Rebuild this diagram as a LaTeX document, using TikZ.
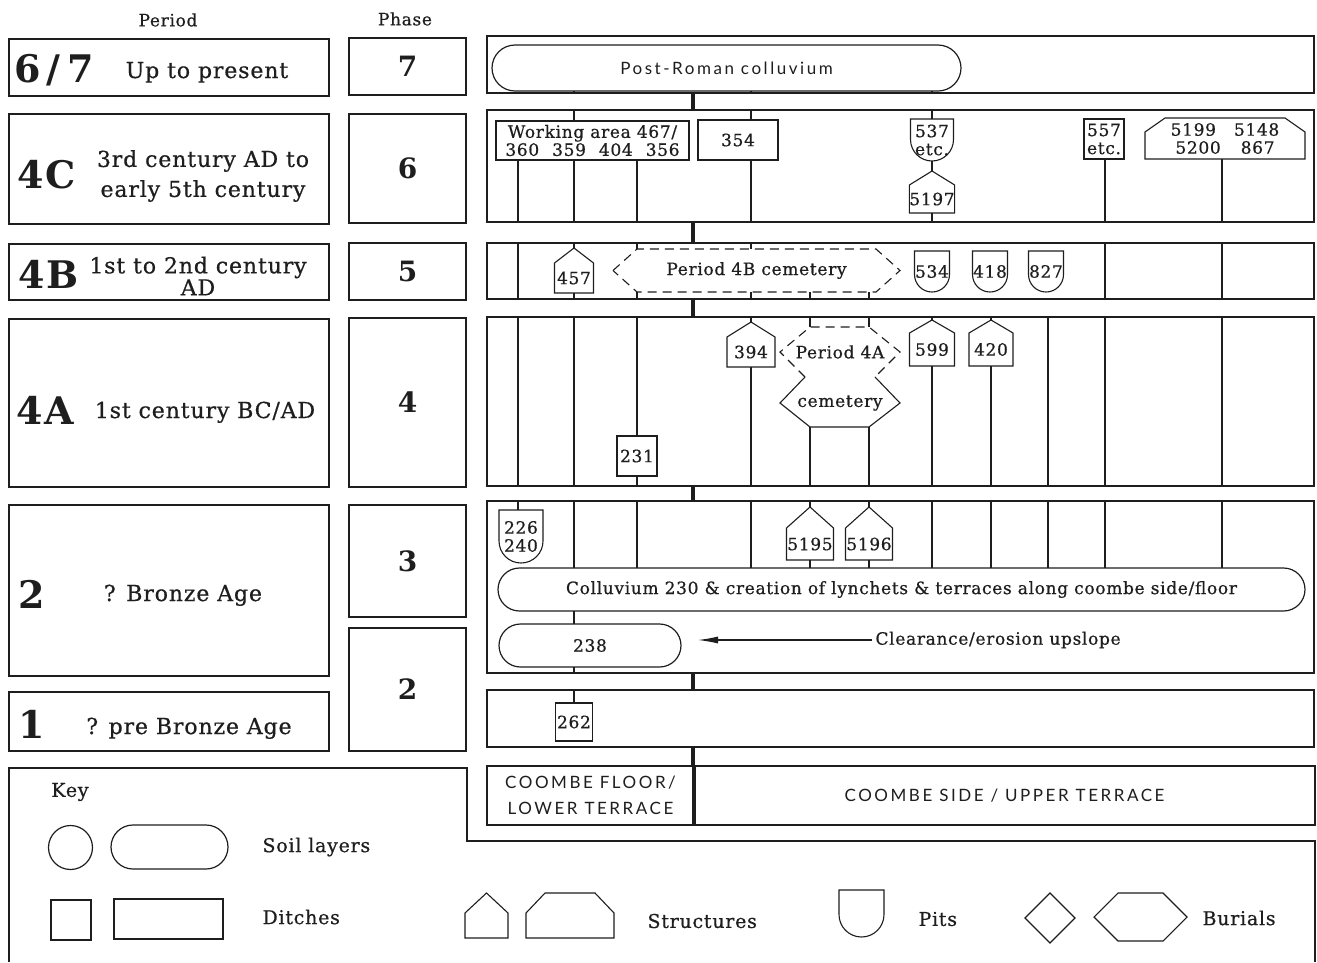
\documentclass[tikz,border=0pt]{standalone}
\usepackage{fontspec}
\setmainfont{DejaVu Serif}[LetterSpace=4, UprightFeatures={FakeBold=0.6}]
\newfontfamily\signfont{Lato}[LetterSpace=15]
\usetikzlibrary{arrows.meta,shapes.geometric}
\definecolor{ink}{HTML}{1E1E1E}
\newcommand{\headfont}{\fontsize{17}{17}\selectfont}
\newcommand{\bignum}{\fontsize{38}{38}\selectfont\bfseries}
\newcommand{\descfont}{\fontsize{22}{30}\selectfont}
\newcommand{\phasefont}{\fontsize{28}{28}\selectfont\bfseries}
\newcommand{\numfont}{\fontsize{17}{18}\selectfont}
\newcommand{\keyfont}{\fontsize{19}{19}\selectfont}
\newcommand{\signtext}{\signfont\fontsize{17}{26}\selectfont}
\tikzset{
  boxline/.style={draw=ink, line width=1.2pt, inner sep=0pt, outer sep=0pt},
  periodbox/.style={boxline, minimum width=320pt},
  phasebox/.style={boxline, minimum width=117pt, font=\phasefont, text=ink},
  rowbox/.style={boxline, minimum width=827pt},
  periodnum/.style={font=\bignum, text=ink, anchor=base west, inner sep=0pt},
  perioddesc/.style={font=\descfont, text=ink, align=center},
  link/.style={draw=ink, line width=1.1pt},
  spine/.style={draw=ink, line width=3.5pt},
  soil/.style={boxline, rounded corners=#1, font=\numfont, text=ink},
  ditch/.style={boxline, font=\numfont, text=ink, align=center},
  pit/.style={inner sep=0pt, outer sep=0pt, font=\numfont, text=ink, align=center,
    minimum width=2*#1,
    append after command={\pgfextra{\draw[link] (\tikzlastnode.north west)
      -- ([yshift=#1]\tikzlastnode.south west) arc[start angle=180, end angle=360, radius=#1]
      -- (\tikzlastnode.north east) -- cycle;}}},
  house/.style={inner sep=0pt, outer sep=0pt, font=\numfont, text=ink,
    append after command={\pgfextra{\draw[link] (\tikzlastnode.south west)
      -- (\tikzlastnode.north west) -- ([yshift=#1]\tikzlastnode.north)
      -- (\tikzlastnode.north east) -- (\tikzlastnode.south east) -- cycle;}}},
  bigstructure/.style 2 args={inner sep=0pt, outer sep=0pt, font=\numfont, text=ink, align=center,
    append after command={\pgfextra{\draw[link] (\tikzlastnode.south west)
      -- ([yshift=-#2]\tikzlastnode.north west) -- ([xshift=#1]\tikzlastnode.north west)
      -- ([xshift=-#1]\tikzlastnode.north east) -- ([yshift=-#2]\tikzlastnode.north east)
      -- (\tikzlastnode.south east) -- cycle;}}},
  burial/.style 2 args={inner sep=0pt, outer sep=0pt, font=\numfont, text=ink,
    append after command={\pgfextra{\draw[link, #2] (\tikzlastnode.west)
      -- ([xshift=#1]\tikzlastnode.north west) -- ([xshift=-#1]\tikzlastnode.north east)
      -- (\tikzlastnode.east) -- ([xshift=-#1]\tikzlastnode.south east)
      -- ([xshift=#1]\tikzlastnode.south west) -- cycle;}}},
  gravedash/.style={dash pattern=on 9pt off 6pt},
  lbl/.style={font=\numfont, text=ink},
  keylbl/.style={font=\keyfont, text=ink, anchor=west},
  flowarrow/.style={link, -{Latex[length=20pt, width=7pt]}}
}

\begin{document}
\begin{tikzpicture}[x=1pt, y=-1pt]
  \useasboundingbox[fill=white] (0,0) rectangle (1317,962);
  \foreach \n/\x in {1/518,2/574,3/637,4/751,5/810,6/869,7/932,8/991,9/1048,10/1105,11/1222}
    \coordinate (c\n) at (\x,0);
  \coordinate (spinex) at (693,0);

  % period and phase columns
  \node[font=\headfont, text=ink] (hperiod) at (168,20) {Period};
  \node[font=\headfont, text=ink] (hphase) at (405,19) {Phase};
  \node[periodbox, minimum height=57pt] (p67) at (169,67.5) {};
  \node[periodbox, minimum height=110pt] (p4c) at (169,169) {};
  \node[periodbox, minimum height=56pt] (p4b) at (169,272) {};
  \node[periodbox, minimum height=168pt] (p4a) at (169,403) {};
  \node[periodbox, minimum height=171pt] (p2) at (169,590.5) {};
  \node[periodbox, minimum height=59pt] (p1) at (169,721.5) {};
  \node[periodnum] (n67) at (14,82) {6\,/\,7};
  \node[periodnum] (n4c) at (17,188) {4C};
  \node[periodnum] (n4b) at (18,288) {4B};
  \node[periodnum] (n4a) at (16,424) {4A};
  \node[periodnum] (n2) at (18,608) {2};
  \node[periodnum] (n1) at (18,738) {1};
  \node[perioddesc, anchor=base] (d67) at (207,78) {Up to present};
  \node[perioddesc] (d4c) at (203,176) {3rd century AD to\\early 5th century};
  \node[perioddesc, font=\fontsize{22}{22}\selectfont] (d4b) at (198,276) {1st to 2nd century\\AD};
  \node[perioddesc, anchor=base] (d4a) at (205,418) {1st century BC/AD};
  \node[perioddesc, anchor=base] (d2) at (183,601) {? Bronze Age};
  \node[perioddesc, anchor=base] (d1) at (189,734) {? pre Bronze Age};
  \node[phasebox, minimum height=57pt] (ph7) at (407.5,66.5) {7};
  \node[phasebox, minimum height=109pt] (ph6) at (407.5,168.5) {6};
  \node[phasebox, minimum height=57pt] (ph5) at (407.5,271.5) {5};
  \node[phasebox, minimum height=169pt] (ph4) at (407.5,402.5) {4};
  \node[phasebox, minimum height=112pt] (ph3) at (407.5,561) {3};
  \node[phasebox, minimum height=123pt] (ph2) at (407.5,689.5) {2};

  % sequence rows
  \node[rowbox, minimum height=57pt] (r7) at (900.5,64.5) {};
  \node[rowbox, minimum height=112pt] (r6) at (900.5,166) {};
  \node[rowbox, minimum height=56pt] (r5) at (900.5,271) {};
  \node[rowbox, minimum height=169pt] (r4) at (900.5,401.5) {};
  \node[rowbox, minimum height=172pt] (r3) at (900.5,587) {};
  \node[rowbox, minimum height=57pt] (r2) at (900.5,718.5) {};
  \node[boxline, minimum width=207pt, minimum height=59pt, font=\signtext, text=ink, align=center] (floor) at (590.5,795.5) {COOMBE FLOOR/\\LOWER TERRACE};
  \node[boxline, minimum width=621pt, minimum height=59pt, font=\signtext, text=ink] (side) at (1004.5,795.5) {COOMBE SIDE / UPPER TERRACE};
  \foreach \a/\b in {r7/r6, r6/r5, r5/r4, r4/r3, r3/r2, r2/floor}
    \draw[spine] (\a.south -| spinex) -- (\b.north -| spinex);
  \draw[spine] (floor.north east) -- (floor.south east);

  % phase 7
  \node[soil=23pt, minimum width=469pt, minimum height=46pt, font=\signtext] (prc) at (726.5,68) {Post-Roman colluvium};
  \foreach \c in {c2,c4,c7} \draw[link] (prc.south -| \c) -- (r7.south -| \c);

  % phase 6
  \node[ditch, minimum width=193pt, minimum height=39pt] (wa) at (592.5,140.5) {Working area 467/\\360\hspace{13pt}359\hspace{13pt}404\hspace{13pt}356};
  \draw[link] (r6.north -| c2) -- (wa.north -| c2);
  \foreach \c in {c1,c2,c3} \draw[link] (wa.south -| \c) -- (r6.south -| \c);
  \node[ditch, minimum width=80pt, minimum height=40pt] (d354) at (738,140) {354};
  \draw[link] (r6.north -| c4) -- (d354.north -| c4);
  \draw[link] (d354.south -| c4) -- (r6.south -| c4);
  \node[pit=21.5pt, minimum height=42pt] (pit537) at (932,140) {537\\etc.};
  \node[house=14pt, minimum width=43pt, minimum height=28pt] (s5197) at (932,199) {5197};
  \draw[link] (r6.north -| pit537) -- (pit537.north);
  \draw[link] (pit537.south) -- ([yshift=14pt]s5197.north);
  \draw[link] (s5197.south) -- (r6.south -| s5197);
  \node[ditch, minimum width=40pt, minimum height=40pt] (d557) at (1104,139) {557\\etc.};
  \draw[link] (d557.south -| c10) -- (r6.south -| c10);
  \node[bigstructure={20pt}{14pt}, minimum width=160pt, minimum height=41pt] (s5199) at (1225,138.5) {5199\hspace{18pt}5148\\5200\hspace{20pt}867};
  \draw[link] (s5199.south -| c11) -- (r6.south -| c11);

  % phase 5
  \foreach \c in {c1,c10,c11} \draw[link] (r5.north -| \c) -- (r5.south -| \c);
  \node[house=15pt, minimum width=39pt, minimum height=30pt] (s457) at (574,278) {457};
  \draw[link] (r5.north -| s457) -- ([yshift=15pt]s457.north);
  \draw[link] (s457.south) -- (r5.south -| s457);
  \node[burial={24pt}{gravedash}, minimum width=287pt, minimum height=43pt] (grave4b) at (756.5,270.5) {Period 4B cemetery};
  \foreach \c in {c3,c4} \draw[link] (r5.north -| \c) -- (grave4b.north -| \c);
  \foreach \c in {c3,c4,c5,c6} \draw[link] (grave4b.south -| \c) -- (r5.south -| \c);
  \node[pit=17.5pt, minimum height=41pt] (pit534) at (932,271.5) {534};
  \node[pit=17.5pt, minimum height=41pt] (pit418) at (990,271.5) {418};
  \node[pit=17.5pt, minimum height=41pt] (pit827) at (1046,271.5) {827};

  % phase 4
  \foreach \c in {c1,c2,c9,c10,c11} \draw[link] (r4.north -| \c) -- (r4.south -| \c);
  \node[ditch, minimum width=40pt, minimum height=40pt] (d231) at (637,456) {231};
  \draw[link] (r4.north -| d231) -- (d231.north);
  \draw[link] (d231.south) -- (r4.south -| d231);
  \node[house=15pt, minimum width=48pt, minimum height=30pt] (s394) at (751,352) {394};
  \draw[link] (r4.north -| s394) -- ([yshift=15pt]s394.north);
  \draw[link] (s394.south) -- (r4.south -| s394);
  \node[lbl] (grave4a) at (840,352) {Period 4A};
  \node[lbl] (cem4a) at (840,403) {cemetery};
  \coordinate (grave4atop) at (840,327);
  \coordinate (grave4abot) at (840,427);
  \draw[link, gravedash] (805,377) -- (780,352) -- (grave4atop -| c5) -- (grave4atop -| c6) -- (900,352) -- (875,377);
  \draw[link] (805,377) -- (780,403) -- (grave4abot -| c5) -- (grave4abot -| c6) -- (900,403) -- (875,377);
  \foreach \c in {c5,c6} {
    \draw[link] (r4.north -| \c) -- (grave4atop -| \c);
    \draw[link] (grave4abot -| \c) -- (r4.south -| \c);
  }
  \node[house=13pt, minimum width=45pt, minimum height=33pt] (s599) at (932,349.5) {599};
  \node[house=13pt, minimum width=44pt, minimum height=33pt] (s420) at (991,349.5) {420};
  \foreach \s in {s599,s420} {
    \draw[link] (r4.north -| \s) -- ([yshift=13pt]\s.north);
    \draw[link] (\s.south) -- (r4.south -| \s);
  }

  % phases 3 and 2
  \node[pit=22pt, minimum height=53pt] (pit226) at (521,536.5) {226\\240};
  \draw[link] (r3.north -| c1) -- (pit226.north -| c1);
  \node[soil=21.5pt, minimum width=807pt, minimum height=43pt] (coll) at (901.5,589.5) {Colluvium 230 \& creation of lynchets \& terraces along coombe side/floor};
  \foreach \c in {c2,c3,c4,c7,c8,c9,c10,c11} \draw[link] (r3.north -| \c) -- (coll.north -| \c);
  \node[house=21pt, minimum width=47pt, minimum height=32pt] (s5195) at (810,544) {5195};
  \node[house=21pt, minimum width=47pt, minimum height=32pt] (s5196) at (869,544) {5196};
  \foreach \s in {s5195,s5196} {
    \draw[link] (r3.north -| \s) -- ([yshift=21pt]\s.north);
    \draw[link] (\s.south) -- (coll.north -| \s);
  }
  \node[soil=21.5pt, minimum width=182pt, minimum height=43pt] (l238) at (590,645.5) {238};
  \draw[link] (coll.south -| c2) -- (l238.north -| c2);
  \draw[link] (l238.south -| c2) -- (r3.south -| c2);
  \node[lbl, anchor=west] (clear) at (872,640) {Clearance/erosion upslope};
  \draw[flowarrow, shorten >=17pt] (clear.west) -- (clear.west -| l238.east);
  \node[ditch, minimum width=37pt, minimum height=38pt] (d262) at (574,722) {262};
  \draw[link] (r2.north -| d262) -- (d262.north);

  % key
  \draw[link] (9,962) -- (9,768) -- (467,768) -- (467,841) -- (1315,841) -- (1315,962);
  \node[font=\keyfont, text=ink] (key) at (70,792) {Key};
  \node[boxline, circle, minimum size=44pt] (ksoil1) at (70.5,847.5) {};
  \node[soil=22pt, minimum width=117pt, minimum height=44pt] (ksoil2) at (169.5,847) {};
  \node[keylbl] (ksoiltxt) at (259,847) {Soil layers};
  \node[ditch, minimum width=40pt, minimum height=40pt] (kditch1) at (71,920) {};
  \node[ditch, minimum width=109pt, minimum height=40pt] (kditch2) at (168.5,919) {};
  \node[keylbl] (kditchtxt) at (259,917) {Ditches};
  \node[house=20pt, minimum width=43pt, minimum height=25pt] (kstruct1) at (486.5,925.5) {};
  \node[bigstructure={19pt}{20pt}, minimum width=88pt, minimum height=45pt] (kstruct2) at (570,915.5) {};
  \node[keylbl] (kstructtxt) at (644,921) {Structures};
  \node[pit=22.5pt, minimum height=47pt] (kpit) at (861.5,913.5) {};
  \node[keylbl] (kpittxt) at (915,919) {Pits};
  \node[boxline, diamond, minimum width=50pt, minimum height=50pt] (kburial1) at (1050,918) {};
  \node[burial={24pt}{solid}, minimum width=93pt, minimum height=48pt] (kburial2) at (1140.5,917) {};
  \node[keylbl] (kburialtxt) at (1199,918) {Burials};
\end{tikzpicture}
\end{document}
